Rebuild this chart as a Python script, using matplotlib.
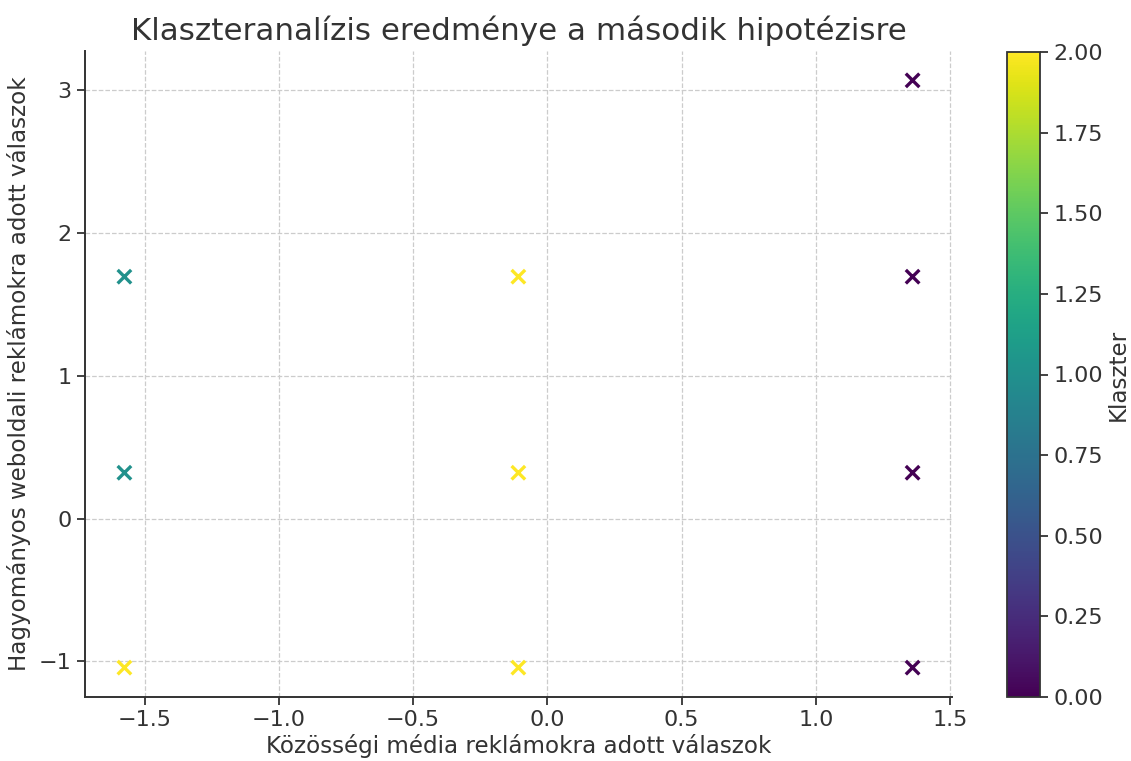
import matplotlib
matplotlib.use("Agg")
import matplotlib.pyplot as plt
import numpy as np

# standardized answers, one row per respondent group
social_media = [-1.575, -1.575, -1.575, -0.108, -0.108, -0.108, 1.36, 1.36, 1.36, 1.36]
web_ads = [1.695, 0.322, -1.043, 1.695, 0.322, -1.043, 3.070, 1.695, 0.322, -1.043]
cluster = [1, 1, 2, 2, 2, 2, 0, 0, 0, 0]

text_color = "#333333"
plt.rcParams["font.family"] = "DejaVu Sans"
plt.rcParams["text.color"] = text_color
plt.rcParams["axes.labelcolor"] = text_color
plt.rcParams["xtick.color"] = text_color
plt.rcParams["ytick.color"] = text_color
plt.rcParams["axes.edgecolor"] = text_color

fig = plt.figure(figsize=(11.31, 7.61), dpi=100)
ax = fig.add_axes([85 / 1131, 1 - 697 / 761, 867 / 1131, 646 / 761])
cax = fig.add_axes([1007 / 1131, 1 - 697 / 761, 33 / 1131, 645 / 761])

sc = ax.scatter(social_media, web_ads, c=cluster, cmap="viridis", marker="x",
                s=95, linewidths=2.4, vmin=0, vmax=2, zorder=3)

ax.set_title("Klaszteranalízis eredménye a második hipotézisre", fontsize=22.3, pad=8)
ax.set_xlabel("Közösségi média reklámokra adott válaszok", fontsize=16.6, labelpad=3)
ax.set_ylabel("Hagyományos weboldali reklámokra adott válaszok", fontsize=16.6, labelpad=6)
ax.tick_params(labelsize=16, width=1.3, length=6)
ax.spines["top"].set_visible(False)
ax.spines["right"].set_visible(False)
ax.spines["left"].set_linewidth(1.4)
ax.spines["bottom"].set_linewidth(1.4)
ax.grid(True, linestyle="--", color="#cccccc", linewidth=0.9)
ax.set_axisbelow(True)

cb = fig.colorbar(sc, cax=cax, ticks=np.arange(0, 2.01, 0.25))
cb.set_label("Klaszter", fontsize=16.6, labelpad=3)
cb.ax.tick_params(labelsize=16, width=1.3, length=6)
cb.ax.yaxis.set_major_formatter(matplotlib.ticker.FormatStrFormatter("%.2f"))
cb.outline.set_linewidth(1.3)

fig.savefig("out.png", dpi=100)
